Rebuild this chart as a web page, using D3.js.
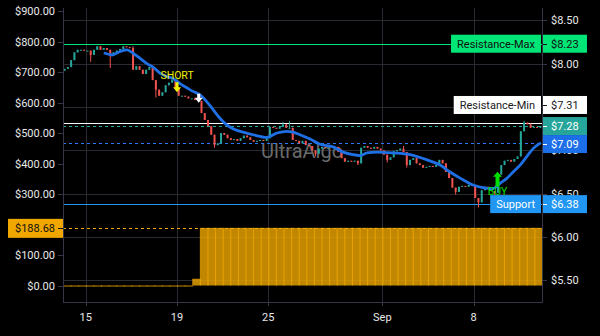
<!DOCTYPE html>
<html><head><meta charset="utf-8">
<script src="https://cdn.jsdelivr.net/npm/d3@7"></script>
<style>html,body{margin:0;padding:0;background:#000;overflow:hidden}svg{display:block;font-family:Roboto,"Open Sans",sans-serif}</style>
</head><body><svg id="c" width="600" height="336"></svg>
<script>
// ---------- DATA ----------
const firstOpen = 7.92;
const closes = [
 7.94,7.96,8.04,8.13,8.16,8.16,8.15,8.15,8.10,8.16,
 8.20,8.16,8.18,8.16,8.10,8.13,8.15,8.17,8.20,8.19,
 8.18,7.93,7.97,7.93,7.88,7.93,7.96,7.81,7.70,7.63,
 7.67,7.75,7.78,7.81,7.72,7.63,7.63,7.62,7.60,7.60,
 7.58,7.57,7.43,7.35,7.28,7.18,7.06,7.08,7.20,7.18,
 7.14,7.12,7.13,7.11,7.14,7.17,7.15,7.12,7.10,7.11,
 7.12,7.11,7.14,7.27,7.26,7.25,7.27,7.30,7.26,7.26,
 7.12,7.11,7.08,7.11,7.06,7.05,7.00,6.96,7.02,7.04,
 7.03,7.05,7.03,7.04,6.98,6.91,6.87,6.88,6.87,6.88,
 6.85,7.03,7.05,7.03,7.02,7.04,7.02,7.00,6.95,6.89,
 6.92,6.99,7.00,7.02,6.98,6.83,6.89,6.91,6.85,6.83,
 6.80,6.81,6.82,6.81,6.83,6.89,6.85,6.75,6.68,6.57,
 6.52,6.58,6.59,6.58,6.60,6.59,6.45,6.40,6.54,6.58,
 6.55,6.53,6.51,6.72,6.83,6.88,6.89,6.87,6.90,6.93,
 7.22,7.32,7.30,7.26,7.27,7.26,7.28
];
const wickIndex = [8,14,21,28,33,46,67,69,77,90,99,104,105,120,127,132,141,143];
const wickLow   = [8.02,7.95,null,7.61,null,7.03,null,null,6.93,6.83,6.86,null,6.80,6.49,6.34,6.46,null,null];
const wickHigh  = [null,null,8.20,null,7.83,null,7.33,7.34,null,null,null,7.05,null,null,null,null,7.34,7.31];

const maDays = [0.84,1.15,1.50,1.81,2.07,2.38,2.68,2.95,3.25,3.56,3.82,4.13,4.44,4.70,5.01,5.31,5.58,5.88,6.19,6.45,6.89,7.33,7.94,8.38,8.82,9.08,9.39,9.83,10.27,10.84,11.28,11.71,12.02,12.33,12.77,13.47,14.21,14.96,15.53,15.97,16.41,16.98,17.41,17.85,18.16,18.47,18.73,19.04,19.34,19.61,19.91];
const maValues = [8.12,8.10,8.14,8.16,8.12,8.06,8.00,7.96,7.89,7.85,7.83,7.77,7.72,7.68,7.64,7.56,7.47,7.37,7.29,7.25,7.21,7.18,7.15,7.20,7.22,7.21,7.18,7.13,7.07,7.04,6.98,6.95,6.94,6.97,6.98,6.97,6.95,6.89,6.83,6.75,6.68,6.60,6.57,6.56,6.62,6.68,6.75,6.83,6.93,7.02,7.08];

const volumeValues = [
 0,0,0,0,0,0,0,0,0,0,0,0,0,0,0,0,0,22,
 188.68,188.68,188.68,188.68,188.68,188.68,188.68,188.68,188.68,188.68,
 188.68,188.68,188.68,188.68,188.68,188.68,188.68,188.68,188.68,188.68,
 188.68,188.68,188.68,188.68,188.68,188.68,188.68,188.68,188.68,188.68,
 188.68,188.68,188.68,188.68,188.68,188.68,188.68,188.68,188.68,188.68,
 188.68,188.68,188.68,188.68,188.68
];
const volumeLast = 188.68;

const priceTicks = [5.5,6.0,6.5,7.0,7.5,8.0,8.5];
const leftTicks = [0,100,300,400,500,600,700,800,900];
const dateTickDays = [0,4,8,13,17];
const dateTickLabels = ["15","19","25","Sep","8"];

const levelValues = [8.23,7.31,7.28,7.09,6.38];
const levelNames = ["Resistance-Max","Resistance-Min","","","Support"];

const signalDays = [4.0,4.95,18.05];
const signalPrices = [7.67,7.55,6.58];
const signalLabels = ["SHORT","","BUY"];

// ---------- LAYOUT / STYLE ----------
const L=63, R=542, T=8, B=302;
const candlesPerDay = 7, slotsPerDay = 3;
const svg = d3.select("#c");
svg.append("rect").attr("width",600).attr("height",336).attr("fill","#000");
const x = d3.scaleLinear().domain([-1,20]).range([L,R]);
const yP = d3.scaleLinear().domain([5.5,8.5]).range([280.4,20.3]);
const yL = d3.scaleLinear().domain([0,900]).range([286,11]);
const gridColor = "#2a2a32", axisColor = "#363648", textColor = "#e8e8e8";

const levelStyle = [
  {line:"#00e676",dash:null,bg:"#00e676",fg:"#111",shift:0},
  {line:"#ffffff",dash:null,bg:"#ffffff",fg:"#1a1a1a",shift:-18.5},
  {line:"#26a69a",dash:"3,3",bg:"#26a69a",fg:"#fff",shift:0},
  {line:"#2979ff",dash:"3,3",bg:"#1c6fe8",fg:"#fff",shift:1.5},
  {line:"#2196f3",dash:null,bg:"#2196f3",fg:"#fff",shift:0}
];
const labelCenters = levelValues.map((v,i)=>yP(v)+levelStyle[i].shift);

// grid
svg.append("g").selectAll("line").data(priceTicks).join("line")
  .attr("x1",L).attr("x2",R).attr("y1",d=>Math.round(yP(d))+0.5).attr("y2",d=>Math.round(yP(d))+0.5)
  .attr("stroke",gridColor);
svg.append("g").selectAll("line").data(dateTickDays).join("line")
  .attr("x1",d=>Math.round(x(d))+0.5).attr("x2",d=>Math.round(x(d))+0.5).attr("y1",T).attr("y2",B)
  .attr("stroke",gridColor);

// watermark
svg.append("text").attr("x",302).attr("y",158).attr("text-anchor","middle")
  .attr("font-size",20).attr("fill","#6a6a6a").text("UltraAlgo");

// volume-like bars
const slotW = x(1/slotsPerDay) - x(0);
svg.append("g").selectAll("rect").data(volumeValues).join("rect")
  .attr("x",(v,k)=>x(-1 + k/slotsPerDay))
  .attr("width",slotW+1)
  .attr("y",v=>yL(v)-0.5)
  .attr("height",v=>Math.max(1,yL(0)-yL(v)))
  .attr("fill","rgba(242,169,0,0.8)");
svg.append("line").attr("x1",L).attr("x2",R)
  .attr("y1",Math.round(yL(volumeLast))+0.5).attr("y2",Math.round(yL(volumeLast))+0.5)
  .attr("stroke","#f2a900").attr("stroke-dasharray","3,3");

// level lines
levelValues.forEach((v,i)=>{
  const yy = Math.round(yP(v))+0.5;
  svg.append("line").attr("x1",L).attr("x2",R).attr("y1",yy).attr("y2",yy)
    .attr("stroke",levelStyle[i].line).attr("stroke-dasharray",levelStyle[i].dash);
});

// candles
const cg = svg.append("g");
closes.forEach((c,i)=>{
  const o = i===0 ? firstOpen : closes[i-1];
  const wi = wickIndex.indexOf(i);
  let hi = Math.max(o,c), lo = Math.min(o,c);
  if (wi>=0){ if (wickHigh[wi]!=null) hi=Math.max(hi,wickHigh[wi]); if (wickLow[wi]!=null) lo=Math.min(lo,wickLow[wi]); }
  const cx = x(-1 + (i+0.5)/candlesPerDay);
  const col = c>=o ? "#26a69a" : "#ef5350";
  cg.append("line").attr("x1",cx).attr("x2",cx).attr("y1",yP(hi)).attr("y2",yP(lo)).attr("stroke",col).attr("stroke-width",1);
  const top = yP(Math.max(o,c)), bot = yP(Math.min(o,c));
  cg.append("rect").attr("x",cx-1).attr("width",2).attr("y",top).attr("height",Math.max(1,bot-top)).attr("fill",col);
});

// moving average
const maPts = maDays.map((d,i)=>({d, v:maValues[i]}));
svg.append("path").datum(maPts)
  .attr("d", d3.line().x(p=>x(p.d)).y(p=>yP(p.v)).curve(d3.curveMonotoneX))
  .attr("fill","none").attr("stroke","#1f6fe5").attr("stroke-width",2.8).attr("stroke-linecap","round");

// signals
function arrowPath(cx, tipY, dir, len, headW, headH, shaftW){
  const hb = tipY - dir*headH, ty = tipY - dir*len;
  return `M${cx},${tipY}L${cx+headW/2},${hb}L${cx+shaftW/2},${hb}L${cx+shaftW/2},${ty}L${cx-shaftW/2},${ty}L${cx-shaftW/2},${hb}L${cx-headW/2},${hb}Z`;
}
const sigStyle = [
  {color:"#f2f200",dir:1,len:10},
  {color:"#ffffff",dir:1,len:9},
  {color:"#00e000",dir:-1,len:15}
];
signalDays.forEach((d,i)=>{
  const cx = x(d), yy = yP(signalPrices[i]), s = sigStyle[i];
  if (s.dir===1){
    svg.append("path").attr("d",arrowPath(cx,yy,1,s.len,8,5,3)).attr("fill",s.color);
    if (signalLabels[i]) svg.append("text").attr("x",cx).attr("y",yy-s.len-3).attr("text-anchor","middle")
      .attr("font-size",10.5).attr("fill",s.color).text(signalLabels[i]);
  } else {
    svg.append("path").attr("d",arrowPath(cx,yy-s.len,-1,s.len,9,5,4)).attr("fill",s.color);
    if (signalLabels[i]) svg.append("text").attr("x",cx).attr("y",yy+8).attr("text-anchor","middle")
      .attr("font-size",10.5).attr("fill",s.color).text(signalLabels[i]);
  }
});

// left axis
const fmtL = d3.format("$,.2f");
svg.append("g").selectAll("line").data(leftTicks).join("line")
  .attr("x1",58).attr("x2",L).attr("y1",d=>Math.round(yL(d))+0.5).attr("y2",d=>Math.round(yL(d))+0.5).attr("stroke",axisColor);
svg.append("g").selectAll("text").data(leftTicks).join("text")
  .attr("x",55).attr("y",d=>yL(d)+4).attr("text-anchor","end").attr("font-size",11).attr("fill",textColor)
  .text(d=>fmtL(d));
const vy = yL(volumeLast);
svg.append("rect").attr("x",8).attr("y",vy-9.5).attr("width",L-8).attr("height",19).attr("fill","#f0a800");
svg.append("line").attr("x1",58).attr("x2",L).attr("y1",Math.round(vy)+0.5).attr("y2",Math.round(vy)+0.5).attr("stroke","#111");
svg.append("text").attr("x",55).attr("y",vy+4).attr("text-anchor","end").attr("font-size",11).attr("fill","#111").text(fmtL(volumeLast));

// right axis (tick labels fully hidden by a level label are not drawn)
const fmtR = d3.format("$.2f");
const visibleTicks = priceTicks.filter(t => !labelCenters.some(c => Math.abs(c - yP(t)) < 4));
svg.append("g").selectAll("line").data(priceTicks).join("line")
  .attr("x1",R).attr("x2",547).attr("y1",d=>Math.round(yP(d))+0.5).attr("y2",d=>Math.round(yP(d))+0.5).attr("stroke",axisColor);
svg.append("g").selectAll("text").data(visibleTicks).join("text")
  .attr("x",551).attr("y",d=>yP(d)+4).attr("font-size",11).attr("fill",textColor).text(d=>fmtR(d));

// level labels
levelValues.forEach((v,i)=>{
  const s = levelStyle[i];
  const cy = labelCenters[i];
  svg.append("rect").attr("x",R).attr("y",cy-9).attr("width",45).attr("height",18).attr("fill",s.bg);
  svg.append("line").attr("x1",R).attr("x2",547).attr("y1",Math.round(cy)+0.5).attr("y2",Math.round(cy)+0.5).attr("stroke",s.fg);
  svg.append("text").attr("x",551).attr("y",cy+4).attr("font-size",11).attr("fill",s.fg).text(fmtR(v));
  if (levelNames[i]){
    const t = svg.append("text").attr("y",cy+4).attr("font-size",11).attr("fill",s.fg).attr("text-anchor","middle").text(levelNames[i]);
    const w = t.node().getComputedTextLength();
    const bw = w+12;
    svg.insert("rect", () => t.node()).attr("x",R-1-bw).attr("y",cy-9).attr("width",bw).attr("height",18).attr("fill",s.bg);
    t.attr("x",R-1-bw/2);
  }
});

// axis lines
svg.append("line").attr("x1",L+0.5).attr("x2",L+0.5).attr("y1",T).attr("y2",B).attr("stroke",axisColor);
svg.append("line").attr("x1",R+0.5).attr("x2",R+0.5).attr("y1",T).attr("y2",B).attr("stroke",axisColor);
svg.append("line").attr("x1",L).attr("x2",R+1).attr("y1",B+0.5).attr("y2",B+0.5).attr("stroke",axisColor);

// x axis
svg.append("g").selectAll("line").data(dateTickDays).join("line")
  .attr("x1",d=>Math.round(x(d))+0.5).attr("x2",d=>Math.round(x(d))+0.5).attr("y1",B).attr("y2",B+4).attr("stroke",axisColor);
svg.append("g").selectAll("text").data(dateTickDays).join("text")
  .attr("x",d=>x(d)).attr("y",321).attr("text-anchor","middle").attr("font-size",11).attr("fill",textColor)
  .text((d,i)=>dateTickLabels[i]);
</script></body></html>
